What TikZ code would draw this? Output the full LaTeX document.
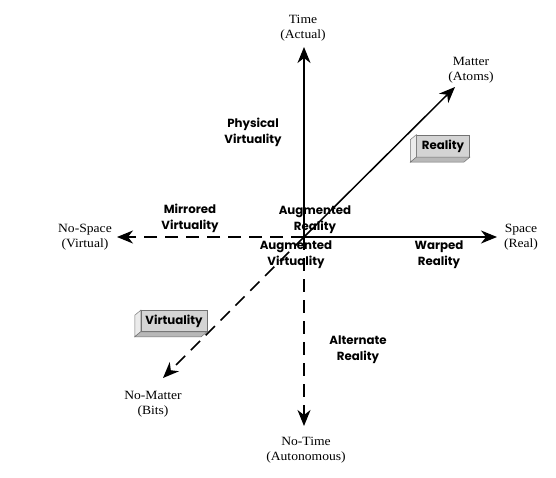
\documentclass[tikz,border=0pt]{standalone}
\usepackage{fontspec}
\setmainfont{Liberation Serif}
\newfontfamily\labfont[FakeStretch=1.08]{Liberation Serif}
\newfontfamily\boldsans{Poppins}
\usetikzlibrary{arrows.meta}
\tikzset{
  axis/.style={line width=1.5pt, -{Stealth[length=16pt,width=13pt,inset=5pt]}},
  dashaxis/.style={axis, dash pattern=on 13pt off 8pt},
  axlab/.style={font=\labfont\fontsize{12.6}{15}\selectfont, align=center, inner sep=0pt},
  region/.style={font=\boldsans\bfseries\fontsize{11.8}{16}\selectfont, align=center, inner sep=0pt},
  boxface/.style={draw=black!55, line width=0.5pt, fill=black!17, inner sep=0pt,
    font=\boldsans\bfseries\fontsize{11.8}{14}\selectfont},
  sideface/.style={draw=black!55, line width=0.5pt, fill=black!8},
  bottomface/.style={draw=black!55, line width=0.5pt, fill=black!28}
}
\begin{document}
\begin{tikzpicture}[x=1pt,y=-1pt]
\useasboundingbox[fill=white] (0,0) rectangle (556,478);

% axis coordinates
\coordinate (O) at (304,237);
\coordinate (T) at (304,47);
\coordinate (B) at (304,426);
\coordinate (L) at (117,237);
\coordinate (R) at (497,237);
\coordinate (UR) at (455,87);
\coordinate (LL) at (163,378);

% axes
\draw[axis] (O) -- (T);
\draw[axis] (O) -- (R);
\draw[axis] (O) -- (UR);
\draw[dashaxis] (O) -- (L);
\draw[dashaxis] (O) -- (B);
\draw[dashaxis] (O) -- (LL);

% axis labels
\node[axlab] (time) at (303,28) {Time\\(Actual)};
\node[axlab] (matter) at (471,70) {Matter\\(Atoms)};
\node[axlab] (space) at (521,237) {Space\\(Real)};
\node[axlab] (nospace) at (85,237) {No-Space\\(Virtual)};
\node[axlab] (nomatter) at (153,404) {No-Matter\\(Bits)};
\node[axlab] (notime) at (306,450) {No-Time\\(Autonomous)};

% region labels
\node[region] (phys) at (253,132) {Physical\\Virtuality};
\node[region] (mirr) at (190,218) {Mirrored\\Virtuality};
\node[region] (augr) at (315,220) {Augmented\\Reality};
\node[region] (augv) at (296,255) {Augmented\\Virtuality};
\node[region] (warp) at (439,255) {Warped\\Reality};
\node[region] (alt) at (358,350) {Alternate\\Reality};

% 3D boxes
\node[boxface, minimum width=53pt, minimum height=22pt] (rbox) at (443,146) {Reality};
\draw[sideface] (rbox.north west) -- ++(-6,5) -- ([shift={(-6,5)}]rbox.south west) -- (rbox.south west) -- cycle;
\draw[bottomface] (rbox.south west) -- ++(-6,5) -- ([shift={(-6,5)}]rbox.south east) -- (rbox.south east) -- cycle;

\node[boxface, minimum width=66pt, minimum height=21pt] (vbox) at (174,321) {Virtuality};
\draw[sideface] (vbox.north west) -- ++(-6,5) -- ([shift={(-6,5)}]vbox.south west) -- (vbox.south west) -- cycle;
\draw[bottomface] (vbox.south west) -- ++(-6,5) -- ([shift={(-6,5)}]vbox.south east) -- (vbox.south east) -- cycle;
\end{tikzpicture}
\end{document}
